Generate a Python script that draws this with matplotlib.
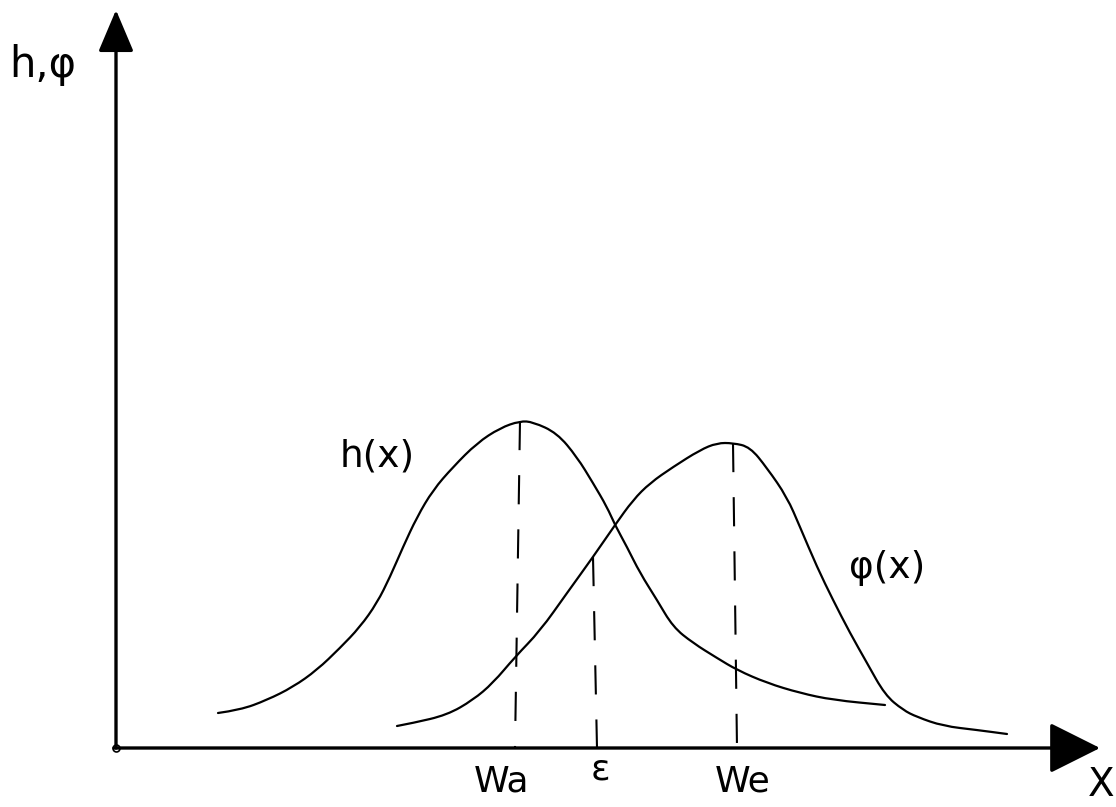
import numpy as np
import matplotlib
matplotlib.use("Agg")
import matplotlib.pyplot as plt
from matplotlib.path import Path
from matplotlib.patches import PathPatch

# curve h(x), points
h_x = [1.02, 1.24, 1.51, 1.77, 2.01, 2.24, 2.44, 2.61, 2.74, 2.87, 3.01, 3.17,
       3.37, 3.61, 3.84, 4.04, 4.17, 4.41, 4.61, 4.77, 4.91, 4.99, 5.11, 5.24,
       5.41, 5.57, 5.77, 6.01, 6.21, 6.51, 6.84, 7.17, 7.69]
h_y = [0.35, 0.38, 0.48, 0.61, 0.78, 1.00, 1.21, 1.45, 1.71, 2.01, 2.31, 2.58,
       2.81, 3.05, 3.20, 3.27, 3.26, 3.15, 2.91, 2.65, 2.41, 2.23, 2.01, 1.75,
       1.48, 1.21, 1.05, 0.90, 0.78, 0.65, 0.55, 0.48, 0.43]

# curve phi(x)
phi_x = [2.81, 2.97, 3.31, 3.57, 3.77, 3.99, 4.24, 4.51, 4.77, 4.99, 5.17, 5.34,
         5.57, 5.84, 6.01, 6.17, 6.34, 6.51, 6.71, 6.84, 7.01, 7.17, 7.34, 7.51,
         7.69, 7.87, 8.01, 8.27, 8.61, 8.91]
phi_y = [0.22, 0.25, 0.33, 0.48, 0.65, 0.91, 1.17, 1.55, 1.91, 2.23, 2.48, 2.65,
         2.81, 2.98, 3.05, 3.05, 3.01, 2.80, 2.51, 2.21, 1.81, 1.48, 1.15, 0.85,
         0.53, 0.38, 0.31, 0.22, 0.18, 0.14]

# dashed markers: (x top, y top, x bottom)
marks = {"Wa": (4.04, 3.27, 3.99), "ε": (4.77, 1.91, 4.81), "We": (6.17, 3.05, 6.21)}
mark_labels = ["Wa", "ε", "We"]
mark_label_x = [3.86, 4.84, 6.27]
mark_label_y = [-0.34, -0.22, -0.34]

x_tip = 9.84
y_tip = 7.38


def smooth_path(xs, ys):
    pts = np.column_stack([xs, ys])
    verts = [pts[0]]
    codes = [Path.MOVETO]
    for i in range(1, len(pts) - 1):
        verts += [pts[i], (pts[i] + pts[i + 1]) / 2]
        codes += [Path.CURVE3, Path.CURVE3]
    verts.append(pts[-1])
    codes.append(Path.LINETO)
    return Path(verts, codes)


fig = plt.figure(figsize=(11.16, 8.07), dpi=100)
ax = fig.add_axes([0, 0, 1, 1])
ax.set_xlim(-1.16, 10.0)
ax.set_ylim(-0.59, 7.48)
ax.axis("off")

for xs, ys in [(h_x, h_y), (phi_x, phi_y)]:
    ax.add_patch(PathPatch(smooth_path(xs, ys), fill=False, lw=1.6,
                           edgecolor="black", capstyle="round"))

for name in mark_labels:
    xt, yt, xb = marks[name]
    ax.plot([xt, xb], [yt, 0], color="black", lw=1.5, linestyle=(0, (14, 12)))

# axes with arrow heads
ax.annotate("", xy=(0, y_tip), xytext=(0, 0),
            arrowprops=dict(arrowstyle="-|>,head_length=2.6,head_width=1.1",
                            mutation_scale=10, lw=2.4, color="black",
                            shrinkA=0, shrinkB=0))
ax.annotate("", xy=(x_tip, 0), xytext=(-0.02, 0),
            arrowprops=dict(arrowstyle="-|>,head_length=3.2,head_width=1.6",
                            mutation_scale=10, lw=2.4, color="black",
                            shrinkA=0, shrinkB=0))
ax.plot([0], [0], "o", mfc="none", mec="black", ms=5, mew=1.2)

font = dict(family="DejaVu Sans", color="black", ha="center", va="center")
for lab, lx, ly in zip(mark_labels, mark_label_x, mark_label_y):
    ax.text(lx, ly, lab, fontsize=26, **font)
ax.text(-0.73, 6.83, "h,φ", fontsize=30, **font)
ax.text(2.61, 2.92, "h(x)", fontsize=27, **font)
ax.text(7.71, 1.80, "φ(x)", fontsize=27, **font)
ax.text(9.98, -0.37, "X", fontsize=28, family="DejaVu Sans", color="black",
        ha="right", va="center")

plt.savefig("out.png", dpi=100)
